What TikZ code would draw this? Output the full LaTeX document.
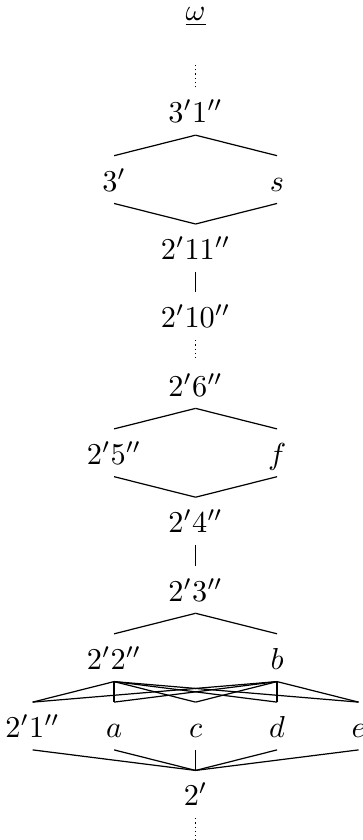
\documentclass[tikz,border=0pt]{standalone}
\usepackage{amsmath}
\begin{document}
\begin{tikzpicture}[
    x=0.945cm, y=0.792cm,
    elem/.style={inner sep=3.33pt, text height=8.2pt, text depth=0.5pt, anchor=base},
    link/.style={draw},
    gap/.style={draw, densely dotted}
]
  \useasboundingbox (-2.40,-0.498) rectangle (2.05,11.8);
  \node[elem] (top) at (0,11.5) {$\underline{\omega}$};
  \node[elem] (t31) at (0,10) {$3'1''$};
  \node[elem] (t3) at (-1,9) {$3'$};
  \node[elem] (s) at (1,9) {$s$};
  \node[elem] (t211) at (0,8) {$2'11''$};
  \node[elem] (t210) at (0,7) {$2'10''$};
  \node[elem] (t26) at (0,6) {$2'6''$};
  \node[elem] (t25) at (-1,5) {$2'5''$};
  \node[elem] (f) at (1,5) {$f$};
  \node[elem] (t24) at (0,4) {$2'4''$};
  \node[elem] (t23) at (0,3) {$2'3''$};
  \node[elem] (t22) at (-1,2) {$2'2''$};
  \node[elem] (b) at (1,2) {$b$};
  \foreach \name/\lab [count=\i] in {t21/2'1'', a/a, c/c, d/d, e/e} {
    \node[elem] (\name) at (\i-3,1) {$\lab$};
  }
  \node[elem] (t2) at (0,0) {$2'$};
  \path (t31.north) ++(0,0.366) coordinate (up);
  \path (t2.south) ++(0,-0.366) coordinate (down);
  \draw[gap] (t31.north) -- (up);
  \foreach \u/\l in {t31/t3, t31/s, t3/t211, s/t211, t211/t210, t26/t25, t26/f,
                     t25/t24, f/t24, t24/t23, t23/t22, t23/b} {
    \draw[link] (\u.south) -- (\l.north);
  }
  \draw[gap] (t210.south) -- (t26.north);
  \foreach \u in {t22, b} {
    \foreach \l in {t21, a, c, d, e} {
      \draw[link] (\u.south) -- (\l.north);
    }
  }
  \foreach \l in {t21, a, c, d, e} {
    \draw[link] (\l.south) -- (t2.north);
  }
  \draw[gap] (t2.south) -- (down);
\end{tikzpicture}
\end{document}
